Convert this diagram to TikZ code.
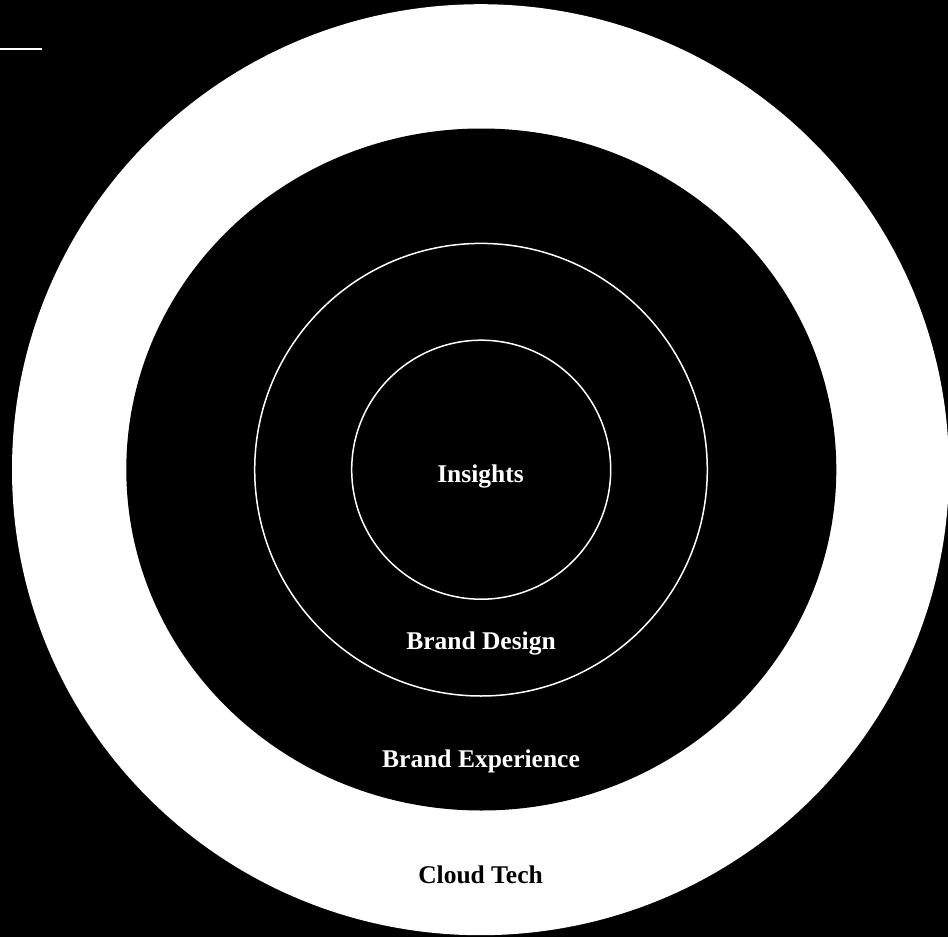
\documentclass[tikz,border=0pt]{standalone}
\usepackage{fontspec}
\setmainfont{Liberation Serif}
\begin{document}
\begin{tikzpicture}[x=1pt,y=-1pt,
  ring/.style={draw=white,line width=1.5pt},
  lbl/.style={font=\fontsize{25.5}{30}\selectfont\bfseries,anchor=base,inner sep=0pt}]
\fill[black] (0,0) rectangle (948,937);
\useasboundingbox (0,0) rectangle (948,937);
\fill[white] (480.5,469.7) ellipse [x radius=468.5,y radius=465.5];
\fill[black] (481.3,469.5) ellipse [x radius=355,y radius=341];
\draw[ring] (481,469.7) circle [radius=226.3];
\draw[ring] (481.2,469.7) circle [radius=129.5];
\coordinate (l1) at (0,49);
\coordinate (l2) at (41.7,49);
\draw[white,line width=2.2pt] (l1) -- (l2);
\node[lbl,white] (ins) at (480.5,482) {Insights};
\node[lbl,white] (bd) at (481,649) {Brand Design};
\node[lbl,white] (be) at (481,767) {Brand Experience};
\node[lbl,black] (ct) at (480.5,883) {Cloud Tech};
\end{tikzpicture}
\end{document}
